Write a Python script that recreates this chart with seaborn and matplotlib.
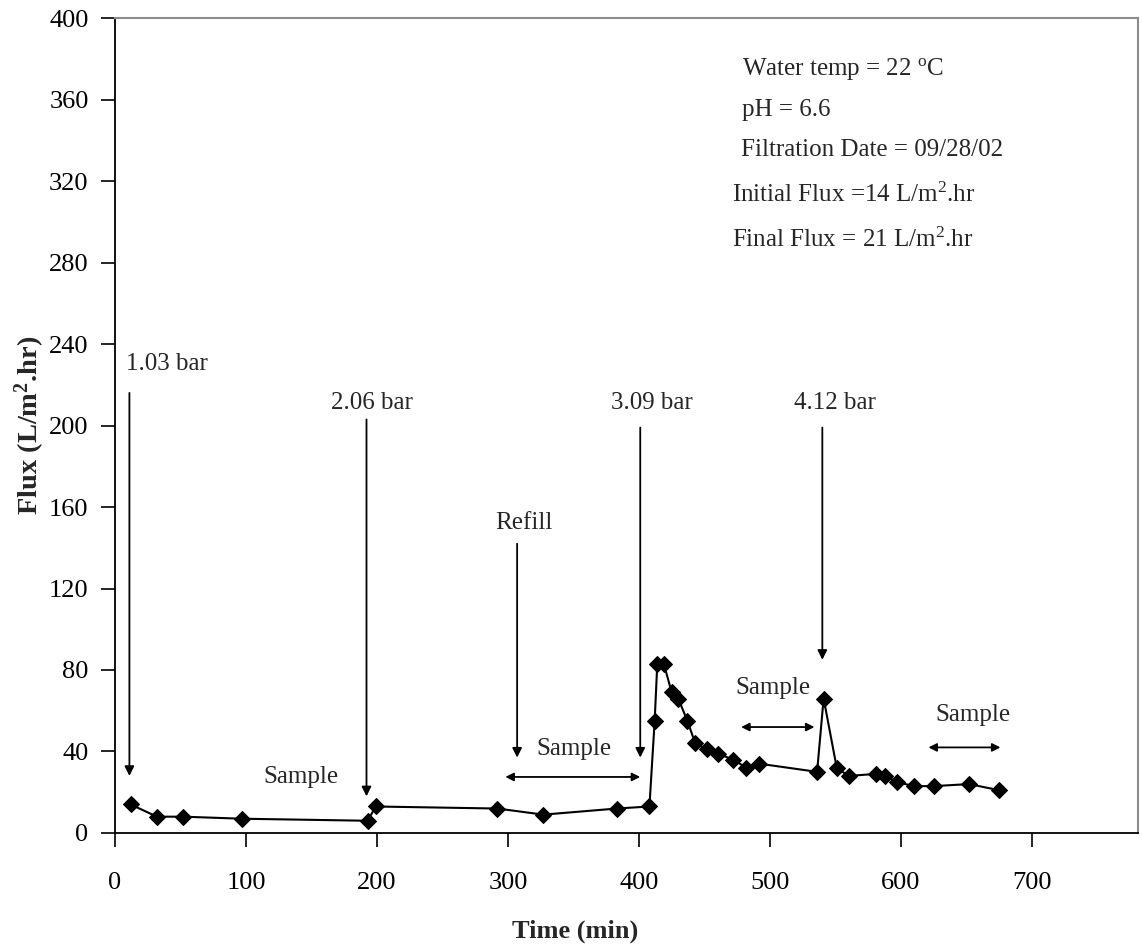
import matplotlib
matplotlib.use("Agg")
import matplotlib.pyplot as plt
import seaborn as sns
import pandas as pd

# ---- data ----
time_min = [12, 32, 52, 97, 193, 199, 292, 327, 383, 408, 412, 414, 419, 425,
            430, 437, 443, 452, 460, 472, 482, 492, 536, 541, 551, 560, 581,
            588, 597, 610, 625, 652, 675]
flux = [14, 8, 8, 7, 6, 13, 12, 9, 12, 13, 55, 83, 83, 69,
        66, 55, 44, 41, 39, 36, 32, 34, 30, 66, 32, 28, 29,
        28, 25, 23, 23, 24, 21]
x_ticks = [0, 100, 200, 300, 400, 500, 600, 700]
y_ticks = [0, 40, 80, 120, 160, 200, 240, 280, 320, 360, 400]

info_lines = ["Water temp = 22 $^\\mathrm{o}$C",
              "pH = 6.6",
              "Filtration Date = 09/28/02",
              "Initial Flux =14 L/m$^\\mathrm{2}$.hr",
              "Final Flux = 21 L/m$^\\mathrm{2}$.hr"]

df = pd.DataFrame({"Time (min)": time_min, "Flux": flux})

sns.set_style("ticks")
plt.rcParams["font.family"] = ["Liberation Serif", "DejaVu Serif"]
plt.rcParams["mathtext.fontset"] = "custom"
plt.rcParams["mathtext.rm"] = "Liberation Serif"
plt.rcParams["mathtext.it"] = "Liberation Serif:italic"
plt.rcParams["mathtext.bf"] = "Liberation Serif:bold"

fig = plt.figure(figsize=(11.42, 9.51), dpi=100)
ax = fig.add_axes([0.1007, 0.1241, 0.8958, 0.8569])

sns.lineplot(data=df, x="Time (min)", y="Flux", ax=ax, color="black",
             marker="D", markersize=8, markeredgecolor="black",
             linewidth=1.5, estimator=None)

ax.set_xlim(0, 781)
ax.set_ylim(0, 400)
ax.set_xticks(x_ticks)
ax.set_yticks(y_ticks)
ax.tick_params(axis="x", direction="out", length=10, width=1.2, pad=18,
               labelsize=19, colors="black")
ax.tick_params(axis="y", direction="out", length=10, width=1.2, pad=9,
               labelsize=19, colors="black")
for s in ["left", "bottom"]:
    ax.spines[s].set_color("black")
    ax.spines[s].set_linewidth(1.3)
for s in ["top", "right"]:
    ax.spines[s].set_visible(True)
    ax.spines[s].set_color("#8c8c8c")
    ax.spines[s].set_linewidth(1.5)

ax.set_xlabel("Time (min)", fontsize=19, fontweight="bold")
ax.set_ylabel("Flux (L/m$^\\mathbf{2}$.hr)", fontsize=20.5, fontweight="bold")
ax.xaxis.set_label_coords(0.45, -0.106)
ax.yaxis.set_label_coords(-0.066, 0.5)

tfs = 18
arrow_kw = dict(arrowstyle="-|>", color="black", lw=1.3, mutation_scale=14,
                shrinkA=0, shrinkB=0)
dbl_kw = dict(arrowstyle="<|-|>", color="black", lw=1.3, mutation_scale=12,
              shrinkA=0, shrinkB=0)

# pressure / refill labels with vertical arrows
labels = [("1.03 bar", 40, 230, 11, 216, 28),
          ("2.06 bar", 196, 211, 192, 203, 18),
          ("Refill", 312, 152, 307, 142, 37),
          ("3.09 bar", 410, 211, 401, 199, 37),
          ("4.12 bar", 550, 211, 540, 199, 85)]
for txt, tx, ty, ax_x, y0, y1 in labels:
    ax.text(tx, ty, txt, ha="center", va="center", fontsize=tfs)
    ax.annotate("", xy=(ax_x, y1), xytext=(ax_x, y0), arrowprops=arrow_kw)

# sample labels
samples = [(142, 27.5, None),
           (350, 41, (298, 401, 27.5)),
           (502, 71, (478, 534, 52)),
           (655, 58, (621, 676, 42))]
for tx, ty, arr in samples:
    ax.text(tx, ty, "Sample", ha="center", va="center", fontsize=tfs)
    if arr is not None:
        x0, x1, yy = arr
        ax.annotate("", xy=(x1, yy), xytext=(x0, yy), arrowprops=dbl_kw)

# info block
info_pos = [(479, 375), (479, 355), (478, 335), (471, 313), (471, 291)]
for line, (ix, iy) in zip(info_lines, info_pos):
    ax.text(ix, iy, line, ha="left", va="center", fontsize=tfs)

fig.savefig("out.png", dpi=100)
